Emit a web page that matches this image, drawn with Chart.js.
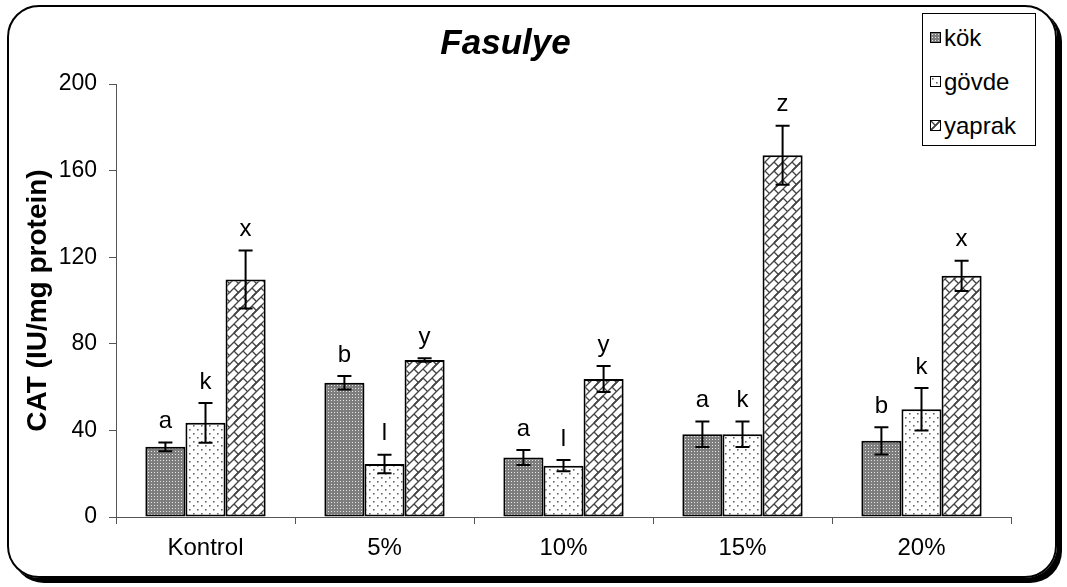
<!DOCTYPE html>
<html>
<head>
<meta charset="utf-8">
<title>Fasulye CAT</title>
<script src="https://cdn.jsdelivr.net/npm/chart.js@4.4.1/dist/chart.umd.min.js"></script>
<style>
    body { margin: 0; background: #fff; }
    #wrap { position: relative; width: 1067px; height: 587px; }
    #frame {
        position: absolute; left: 7px; top: 5px; width: 1046px; height: 569px;
        border: 2px solid #000; border-radius: 32px;
        box-shadow: 5px 5px 0 #000; pointer-events: none;
    }
    #legend {
        position: absolute; left: 922px; top: 13px; width: 112px; height: 131px;
        border: 1px solid #000; background: #fff;
        font-family: 'Liberation Sans', Arial, sans-serif; font-size: 24px;
    }
    #legend .item { position: absolute; left: 7px; height: 28px; line-height: 28px; white-space: nowrap; }
    #legend canvas { border: 1px solid #000; vertical-align: middle; margin-right: 3px; position: relative; top: -2px; }
</style>
</head>
<body>
<div id="wrap">
    <canvas id="catChart" width="1067" height="587"></canvas>
    <div id="legend"></div>
    <div id="frame"></div>
</div>
<script>
// data
const categories = ['Kontrol', '5%', '10%', '15%', '20%'];
const seriesNames = ['kök', 'gövde', 'yaprak'];
const kokValues = [32.4, 62.0, 27.5, 38.2, 35.2];
const govdeValues = [43.5, 24.5, 23.7, 38.2, 49.8];
const yaprakValues = [109.7, 72.5, 63.7, 167.1, 111.4];
const kokErrors = [2.0, 3.1, 3.5, 5.9, 6.3];
const govdeErrors = [9.2, 4.3, 2.6, 5.9, 9.8];
const yaprakErrors = [13.4, 0.8, 6.0, 13.6, 7.0];
const kokLetters = ['a', 'b', 'a', 'a', 'b'];
const govdeLetters = ['k', 'l', 'l', 'k', 'k'];
const yaprakLetters = ['x', 'y', 'y', 'z', 'x'];
const yTicks = [0, 40, 80, 120, 160, 200];

const FONT = "'Liberation Sans', Arial, sans-serif";

// fill patterns
function makeTile(size, draw) {
    var c = document.createElement('canvas');
    c.width = size; c.height = size;
    draw(c.getContext('2d'), size);
    return c;
}

const kokTile = makeTile(3, function (g, s) {
    g.fillStyle = '#7d7d7d';
    g.fillRect(0, 0, s, s);
    g.fillStyle = '#e6e6e6';
    g.fillRect(1, 1, 1, 1);
});

const govdeTile = makeTile(8, function (g, s) {
    g.fillStyle = '#fff';
    g.fillRect(0, 0, s, s);
    g.fillStyle = '#666';
    g.fillRect(1, 1, 1.6, 1.6);
    g.fillRect(5, 5, 1.6, 1.6);
});

const yaprakTile = makeTile(18, function (g, T) {
    g.fillStyle = '#fff';
    g.fillRect(0, 0, T, T);
    g.strokeStyle = '#444';
    g.lineWidth = 1.3;
    var segs = [];
    // long "/" lines
    [T / 2, T, 3 * T / 2].forEach(function (c) {
        segs.push([c, 0, 0, c]);
    });
    // short "\" brick joints
    segs.push([0, 0, T / 4, T / 4]);
    segs.push([T / 2, 0, 3 * T / 4, T / 4]);
    segs.push([T / 2, T / 2, 3 * T / 4, 3 * T / 4]);
    segs.push([0, T / 2, T / 4, 3 * T / 4]);
    segs.forEach(function (s) {
        [-T, 0, T].forEach(function (dx) {
            [-T, 0, T].forEach(function (dy) {
                g.beginPath();
                g.moveTo(s[0] + dx, s[1] + dy);
                g.lineTo(s[2] + dx, s[3] + dy);
                g.stroke();
            });
        });
    });
});

const ctx = document.getElementById('catChart').getContext('2d');
const tiles = [kokTile, govdeTile, yaprakTile];
const patterns = tiles.map(function (t) { return ctx.createPattern(t, 'repeat'); });
const errors = [kokErrors, govdeErrors, yaprakErrors];
const letters = [kokLetters, govdeLetters, yaprakLetters];

// error bars + significance letters
const errorBarPlugin = {
    id: 'errorBars',
    afterDatasetsDraw: function (chart) {
        var c = chart.ctx;
        var yScale = chart.scales.y;
        c.save();
        chart.data.datasets.forEach(function (ds, i) {
            var meta = chart.getDatasetMeta(i);
            meta.data.forEach(function (bar, j) {
                var v = ds.data[j];
                var e = errors[i][j];
                var top = yScale.getPixelForValue(v + e);
                var bot = yScale.getPixelForValue(v - e);
                c.strokeStyle = '#000';
                c.lineWidth = 2;
                c.beginPath();
                c.moveTo(bar.x, top); c.lineTo(bar.x, bot);
                c.moveTo(bar.x - 7, top); c.lineTo(bar.x + 7, top);
                c.moveTo(bar.x - 7, bot); c.lineTo(bar.x + 7, bot);
                c.stroke();
                c.fillStyle = '#000';
                c.font = '24px ' + FONT;
                c.textAlign = 'center';
                c.textBaseline = 'middle';
                c.fillText(letters[i][j], bar.x, top - 21);
            });
        });
        c.restore();
    }
};

const chart = new Chart(ctx, {
    type: 'bar',
    data: {
        labels: categories,
        datasets: [
            { label: seriesNames[0], data: kokValues, backgroundColor: patterns[0] },
            { label: seriesNames[1], data: govdeValues, backgroundColor: patterns[1] },
            { label: seriesNames[2], data: yaprakValues, backgroundColor: patterns[2] }
        ]
    },
    options: {
        responsive: false,
        animation: false,
        layout: { padding: { top: 0, right: 56, bottom: 0, left: 0 } },
        datasets: {
            bar: {
                categoryPercentage: 0.672,
                barPercentage: 1.0,
                borderColor: '#000',
                borderWidth: 2,
                borderSkipped: false
            }
        },
        plugins: {
            legend: { display: false },
            tooltip: { enabled: false },
            title: {
                display: true,
                text: 'Fasulye',
                color: '#000',
                font: { family: FONT, size: 35, weight: 'bold', style: 'italic' },
                padding: { top: 23, bottom: 19 }
            }
        },
        scales: {
            x: {
                grid: { drawOnChartArea: false, tickLength: 7, tickColor: '#555', offset: true },
                border: { color: '#555', width: 1 },
                ticks: { color: '#000', font: { family: FONT, size: 24 }, padding: 10, maxRotation: 0 },
                afterFit: function (scale) { scale.height = 70; }
            },
            y: {
                min: yTicks[0],
                max: yTicks[yTicks.length - 1],
                afterBuildTicks: function (scale) {
                    scale.ticks = yTicks.map(function (v) { return { value: v }; });
                },
                grid: { drawOnChartArea: false, tickLength: 7, tickColor: '#555' },
                border: { color: '#555', width: 1 },
                ticks: { color: '#000', font: { family: FONT, size: 23 }, padding: 12 },
                title: {
                    display: true,
                    text: 'CAT (IU/mg protein)',
                    color: '#000',
                    font: { family: FONT, size: 28, weight: 'bold' },
                    padding: { top: 21, bottom: 0 }
                },
                afterFit: function (scale) { scale.width = 116; }
            }
        }
    },
    plugins: [errorBarPlugin]
});

// legend box
const legendEl = document.getElementById('legend');
seriesNames.forEach(function (name, i) {
    var item = document.createElement('div');
    item.className = 'item';
    item.style.top = (10 + i * 44) + 'px';
    var sw = document.createElement('canvas');
    sw.width = 9; sw.height = 9;
    var g = sw.getContext('2d');
    g.fillStyle = g.createPattern(tiles[i], 'repeat');
    g.fillRect(0, 0, 9, 9);
    item.appendChild(sw);
    item.appendChild(document.createTextNode(name));
    legendEl.appendChild(item);
});
</script>
</body>
</html>
